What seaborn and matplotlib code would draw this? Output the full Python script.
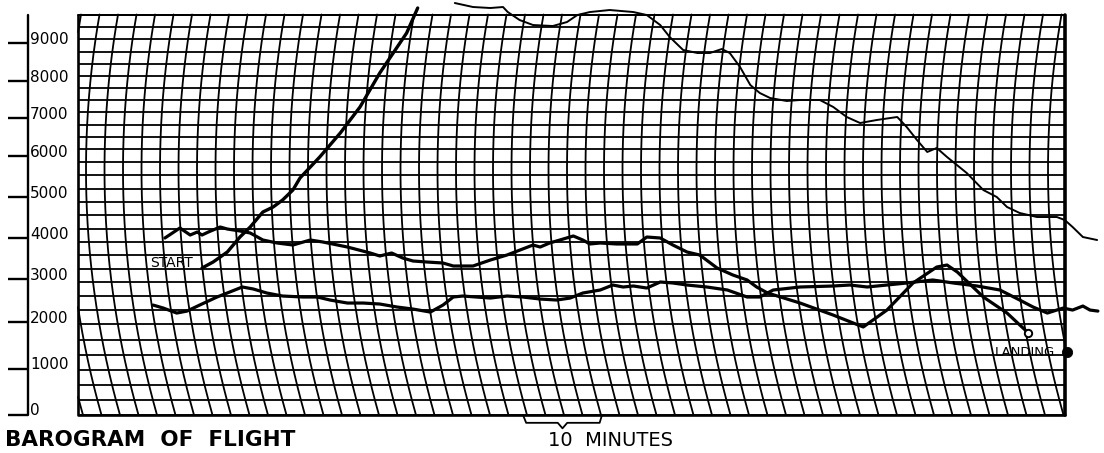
import numpy as np
import pandas as pd
import seaborn as sns
import matplotlib.pyplot as plt

# Altitude scale printed on the left edge (feet) and where each mark sits on the sheet (px from top)
tick_alts = [0, 1000, 2000, 3000, 4000, 5000, 6000, 7000, 8000, 9000]
tick_px = [415, 369, 322, 279, 238, 197, 156, 118, 81, 43]
tick_labels = ["0", "1000", "2000", "3000", "4000", "5000", "6000", "7000", "8000", "9000"]

# Pen traces: minutes from the left edge of the grid, feet
climb_min = [15.7, 17.1, 18.9, 20.5, 21.8, 23.4, 24.7, 25.9, 27.2, 28.1, 30.6, 33.2,
             35.7, 38.2, 39.9, 41.6, 43.0]
climb_alt = [3268, 3414, 3658, 4024, 4268, 4634, 4756, 4927, 5170, 5463, 5976, 6605,
             7298, 8211, 8737, 9263, 9921]

ceiling_min = [47.7, 50.0, 52.2, 53.8, 54.4, 55.9, 57.6, 60.1, 61.9, 63.2, 64.8, 67.3,
               70.3, 72.0, 73.7, 74.9, 76.6, 78.4, 80.0, 81.5, 82.5, 83.8, 85.1, 86.3,
               87.6, 89.7, 91.4, 93.9, 95.6, 97.3, 99.0, 101.1, 103.7, 104.9, 106.2,
               107.5, 108.7, 110.0, 112.5, 114.6, 116.3, 117.6, 119.2, 121.4, 123.9,
               124.9, 125.9, 127.2, 129.0]
ceiling_alt = [10052, 9947, 9921, 9947, 9815, 9605, 9473, 9447, 9552, 9736, 9815, 9868,
               9815, 9736, 9473, 9158, 8816, 8737, 8737, 8842, 8737, 8369, 7892, 7676,
               7541, 7460, 7487, 7487, 7298, 7028, 6868, 6947, 7027, 6763, 6421,
               6106, 6211, 5976, 5585, 5170, 5000, 4756, 4610, 4512, 4512,
               4439, 4268, 4024, 3951]

upper_min = [11.0, 12.9, 14.2, 15.1, 15.7, 16.5, 18.0, 18.9, 20.5, 21.8, 23.4, 25.2,
             27.2, 29.4, 31.0, 34.1, 37.0, 38.2, 39.7, 41.1, 42.4, 44.2, 46.2, 47.5,
             50.0, 52.2, 54.3, 57.6, 58.5, 59.7, 61.0, 62.7, 63.9, 64.8, 66.1, 68.2,
             70.8, 72.0, 73.7, 75.3, 77.1, 78.7, 80.9, 82.9, 84.7, 85.9, 87.3, 91.4,
             95.6, 99.4, 102.4, 105.7, 108.7, 110.0, 111.3, 114.6, 117.6, 120.3]
upper_alt = [4000, 4244, 4073, 4146, 4073, 4146, 4268, 4219, 4171, 4122, 3951, 3878,
             3829, 3951, 3902, 3780, 3634, 3561, 3634, 3512, 3439, 3414, 3390, 3317,
             3317, 3463, 3585, 3829, 3780, 3878, 3951, 4049, 3951, 3854, 3878, 3854,
             3854, 4024, 4000, 3829, 3658, 3585, 3268, 3097, 2977, 2814, 2674, 2441,
             2161, 1894, 2278, 2907, 3292, 3341, 3171, 2581, 2208, 1766]

lower_min = [9.5, 10.8, 12.5, 13.8, 15.4, 17.6, 19.2, 20.8, 22.2, 23.9, 25.9, 28.5,
             30.3, 31.9, 34.1, 36.1, 38.2, 40.4, 42.4, 44.6, 46.2, 47.5, 48.7, 52.2,
             54.3, 56.3, 58.5, 60.6, 62.3, 63.9, 66.1, 67.7, 69.0, 70.3, 72.0, 73.7,
             75.3, 77.1, 79.6, 82.2, 84.7, 86.3, 88.0, 91.4, 95.6, 97.7, 99.9, 102.4,
             104.9, 108.2, 110.8, 113.8, 116.7, 119.2, 120.9, 122.7, 123.9, 124.7,
             125.9, 127.2, 128.1, 129.1]
lower_alt = [2394, 2324, 2208, 2254, 2394, 2581, 2697, 2814, 2767, 2674, 2604, 2581,
             2581, 2511, 2441, 2441, 2418, 2348, 2301, 2231, 2394, 2581, 2604, 2557,
             2604, 2581, 2534, 2511, 2557, 2674, 2744, 2860, 2814, 2837, 2790, 2930,
             2907, 2860, 2814, 2744, 2581, 2581, 2744, 2814, 2837, 2860, 2814, 2860,
             2907, 2977, 2907, 2837, 2744, 2511, 2348, 2208, 2278, 2324,
             2278, 2371, 2278, 2254]

# the ink dot after the LANDING note
dot_min = [125.2]
dot_alt = [1360]

# sheet geometry (px of the scan -> minutes)
PX_PER_MIN = 7.9
GRID_LEFT_PX = 78
FIG_W, FIG_H = 1104, 453
GRID_TOP = 9750
GRID_RIGHT = (1065 - GRID_LEFT_PX) / PX_PER_MIN

ALT = np.array(tick_alts, float)
PX = np.array(tick_px, float)
lo_rate = (PX[0] - PX[1]) / (ALT[1] - ALT[0])
hi_rate = (PX[-2] - PX[-1]) / (ALT[-1] - ALT[-2])


def alt_to_px(a):
    a = np.asarray(a, float)
    p = np.interp(a, ALT, PX)
    p = np.where(a < ALT[0], PX[0] + (ALT[0] - a) * lo_rate, p)
    p = np.where(a > ALT[-1], PX[-1] - (a - ALT[-1]) * hi_rate, p)
    return p


def px_to_alt(p):
    p = np.asarray(p, float)
    a = np.interp(p, PX[::-1], ALT[::-1])
    a = np.where(p > PX[0], ALT[0] - (p - PX[0]) / lo_rate, a)
    a = np.where(p < PX[-1], ALT[-1] + (PX[-1] - p) / hi_rate, a)
    return a


def px_to_min(x):
    return (x - GRID_LEFT_PX) / PX_PER_MIN


sns.set_theme(style="white")
plt.rcParams["font.family"] = ["DejaVu Sans"]
plt.rcParams["text.color"] = "black"

fig = plt.figure(figsize=(FIG_W / 100, FIG_H / 100), dpi=100)
ax = fig.add_axes([0, 0, 1, 1])

# traces
frames = []
for seg, t, a in [("climb", climb_min, climb_alt), ("ceiling", ceiling_min, ceiling_alt),
                  ("upper", upper_min, upper_alt), ("lower", lower_min, lower_alt)]:
    frames.append(pd.DataFrame({"minutes": t, "altitude": a, "seg": seg}))
traces = pd.concat(frames, ignore_index=True)
pens = {"climb": 2.4, "ceiling": 1.4, "upper": 2.3, "lower": 2.3}
sns.lineplot(data=traces, x="minutes", y="altitude", units="seg", size="seg", sizes=pens,
             estimator=None, sort=False, color="black", legend=False, ax=ax, zorder=5)

# landing ring and dot
sns.scatterplot(x=[upper_min[-1]], y=[upper_alt[-1]], s=28, marker="o", color="white",
                edgecolor="black", linewidth=1.4, ax=ax, zorder=6)
sns.scatterplot(x=dot_min, y=dot_alt, s=55, color="black", edgecolor="black", ax=ax, zorder=6)

# horizontal rulings
rule_alts = np.arange(0, GRID_TOP + 1, 325)
ax.hlines(rule_alts, 0, GRID_RIGHT, color="black", lw=1.3, zorder=2)

# curved time lines (pen-arm arcs)
arc_r = 900.0
arc_mid = 170.0
arc_step = 18.5 / PX_PER_MIN
a_samp = np.linspace(0, GRID_TOP, 400)
dy = alt_to_px(a_samp) - arc_mid
bend = (arc_r - np.sqrt(arc_r ** 2 - dy ** 2)) / PX_PER_MIN
for t0 in np.arange(px_to_min(86) - 3 * arc_step, GRID_RIGHT, arc_step):
    t = t0 + bend
    t = np.where((t >= 0) & (t <= GRID_RIGHT), t, np.nan)
    ax.plot(t, a_samp, color="black", lw=1.3, zorder=2)

# border of the sheet
ax.plot([0, 0, GRID_RIGHT], [GRID_TOP, 0, 0], color="black", lw=1.9, zorder=3)
ax.plot([0, GRID_RIGHT], [GRID_TOP, GRID_TOP], color="black", lw=1.4, zorder=3)
ax.plot([GRID_RIGHT, GRID_RIGHT], [0, GRID_TOP], color="black", lw=2.6, zorder=3)

# left altitude scale
axis_t = px_to_min(28)
ax.plot([axis_t, axis_t], [0, 9740], color="black", lw=1.7)
ax.hlines(tick_alts, px_to_min(8), axis_t, color="black", lw=1.7)
for a, lab in zip(tick_alts, tick_labels):
    ax.text(px_to_min(30), a + 90, lab, fontsize=11, ha="left", va="center", color="black")

# ten-minute bracket under the grid
b0 = px_to_min(523)
ax.plot([b0, b0 + 0.4, b0 + 4.4, b0 + 5, b0 + 5.6, b0 + 9.7, b0 + 10],
        [0, -170, -170, -290, -170, -170, 0], color="black", lw=1.3)

# notes
ax.text(px_to_min(150), px_to_alt(263), "START", fontsize=10, ha="left", va="center",
        color="black")
ax.text(px_to_min(995), px_to_alt(352), "LANDING", fontsize=9.5, ha="left", va="center",
        color="black")
fig.text(5 / FIG_W, 1 - 440 / FIG_H, "BAROGRAM  OF  FLIGHT", fontsize=15.5,
         fontweight="bold", ha="left", va="center", color="black")
fig.text(548 / FIG_W, 1 - 440 / FIG_H, "10  MINUTES", fontsize=14, ha="left", va="center",
         color="black")

ax.set_yscale("function", functions=(lambda a: -alt_to_px(a), lambda v: px_to_alt(-v)))
ax.set_xlim(px_to_min(0), px_to_min(FIG_W))
ax.set_ylim(float(px_to_alt(FIG_H)), float(px_to_alt(0)))
ax.axis("off")

fig.savefig("out.png", dpi=100)
plt.close(fig)
